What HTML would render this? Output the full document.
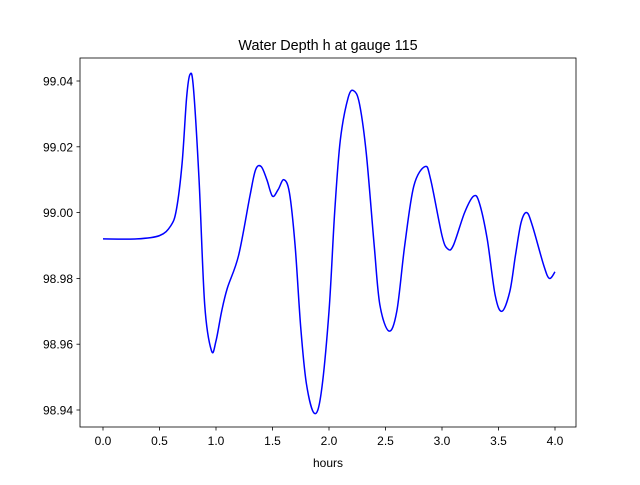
<!DOCTYPE html>
<html><head><meta charset="utf-8"><style>
body{margin:0;background:#fff;font-family:"Liberation Sans",sans-serif}
svg text{font-family:"Liberation Sans",sans-serif;font-size:12px;fill:#000}
</style></head><body>
<svg id="chart" width="640" height="480" viewBox="0 0 640 480">
<rect x="0" y="0" width="640" height="480" fill="#fff"/>
<text x="328" y="50" text-anchor="middle" style="font-size:14.4px">Water Depth h at gauge 115</text>
<g id="ticks"></g>
<path id="line" fill="none" stroke="#0000ff" stroke-width="1.5"/>
<rect x="80" y="58" width="496" height="369" fill="none" stroke="#000" stroke-width="0.8"/>
<text x="328" y="467" text-anchor="middle">hours</text>
</svg>
<script>
const times=[0,0.3,0.5,0.6,0.65,0.7,0.74,0.77,0.8,0.85,0.9,0.96,1.0,1.05,1.1,1.2,1.3,1.35,1.4,1.45,1.5,1.55,1.6,1.65,1.7,1.75,1.8,1.87,1.93,2.0,2.05,2.1,2.17,2.22,2.27,2.33,2.4,2.45,2.53,2.6,2.67,2.75,2.85,2.9,3.0,3.05,3.1,3.2,3.28,3.33,3.4,3.47,3.53,3.6,3.65,3.7,3.75,3.8,3.9,3.95,4.0];
const depths=[98.992,98.992,98.993,98.996,99.001,99.015,99.035,99.042,99.038,99.010,98.972,98.958,98.961,98.970,98.977,98.987,99.005,99.013,99.014,99.010,99.005,99.007,99.010,99.006,98.990,98.965,98.948,98.939,98.945,98.970,99.000,99.022,99.035,99.037,99.033,99.018,98.990,98.972,98.964,98.970,98.990,99.008,99.014,99.010,98.993,98.989,98.990,99.000,99.005,99.003,98.992,98.975,98.970,98.976,98.987,98.997,99.000,98.996,98.984,98.980,98.982];
const xTicks=[0,0.5,1,1.5,2,2.5,3,3.5,4];
const xTickLabels=["0.0","0.5","1.0","1.5","2.0","2.5","3.0","3.5","4.0"];
const yTicks=[98.94,98.96,98.98,99.00,99.02,99.04];
const yTickLabels=["98.94","98.96","98.98","99.00","99.02","99.04"];
const X=t=>103+t*113;
const Y=v=>410-(v-98.94)*3290;
const NS="http://www.w3.org/2000/svg";
const g=document.getElementById('ticks');
function mk(tag,a){const e=document.createElementNS(NS,tag);for(const k in a)e.setAttribute(k,a[k]);g.appendChild(e);return e;}
xTicks.forEach((t,i)=>{
 const l=mk('line',{x1:X(t),x2:X(t),y1:427,y2:430.5,stroke:'#000','stroke-width':0.8});
 
 
 const tx=mk('text',{x:X(t),y:445,'text-anchor':'middle'});tx.textContent=xTickLabels[i];
 
 
});
yTicks.forEach((v,i)=>{
 const l=mk('line',{x1:76.5,x2:80,y1:Y(v),y2:Y(v),stroke:'#000','stroke-width':0.8});
 
 
 const tx=mk('text',{x:73,y:Y(v)+4.5,'text-anchor':'end'});tx.textContent=yTickLabels[i];
 
 
});
const P=times.map((t,i)=>[X(t),Y(depths[i])]);
let d='M'+P[0][0]+','+P[0][1];
for(let i=0;i<P.length-1;i++){
 const p0=P[Math.max(0,i-1)],p1=P[i],p2=P[i+1],p3=P[Math.min(P.length-1,i+2)];
 const c1=[p1[0]+(p2[0]-p0[0])/6,p1[1]+(p2[1]-p0[1])/6];
 const c2=[p2[0]-(p3[0]-p1[0])/6,p2[1]-(p3[1]-p1[1])/6];
 d+=` C${c1[0]},${c1[1]} ${c2[0]},${c2[1]} ${p2[0]},${p2[1]}`;
}
document.getElementById('line').setAttribute('d',d);
</script>
</body></html>
